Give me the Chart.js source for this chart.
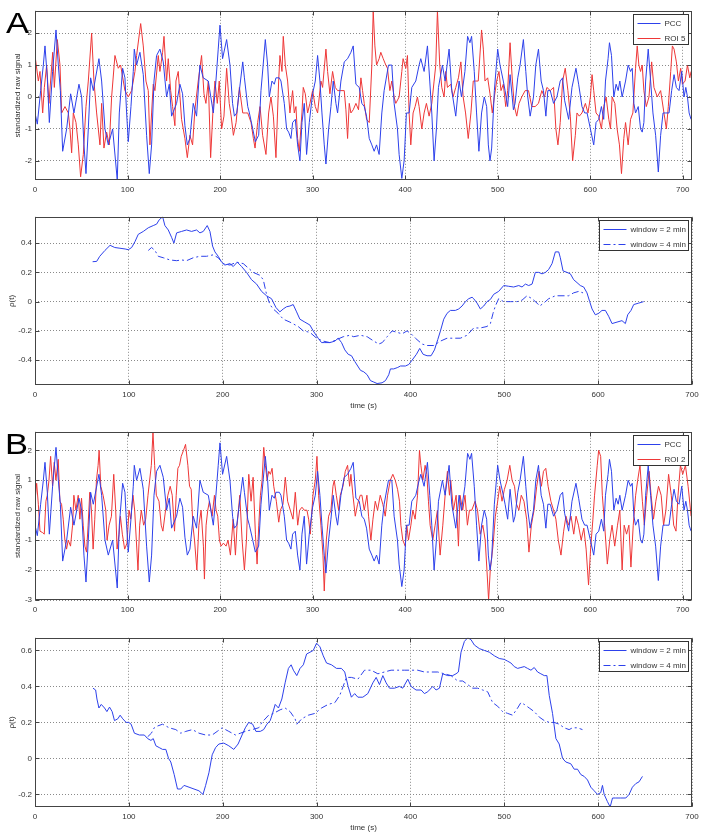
<!DOCTYPE html>
<html>
<head>
<meta charset="utf-8">
<script src="https://cdn.jsdelivr.net/npm/chart.js@4.4.1/dist/chart.umd.min.js"></script>
<style>
html,body{margin:0;padding:0;background:#fff;}
body{width:704px;height:838px;position:relative;overflow:hidden;font-family:"Liberation Sans",Arial,sans-serif;}
canvas{position:absolute;left:0;}
.lab{position:absolute;font-size:30px;line-height:30px;color:#000;transform:scaleX(1.15);transform-origin:left top;}
</style>
</head>
<body>
<canvas id="a1" width="704" height="197" style="top:3px"></canvas>
<canvas id="a2" width="704" height="207" style="top:209px"></canvas>
<canvas id="b1" width="704" height="196" style="top:424px"></canvas>
<canvas id="b2" width="704" height="208" style="top:630px"></canvas>
<div class="lab" style="left:6px;top:8px">A</div>
<div class="lab" style="left:5px;top:429px">B</div>
<script>
// ---------------- DATA (time in s, value) ----------------
const sigTicksX = [0,100,200,300,400,500,600,700];
const rhoTicksX = [0,100,200,300,400,500,600,700];
const sigTicksY = [-2,-1,0,1,2];
const sigTicksYB = [-3,-2,-1,0,1,2];
const rhoTicksYA = [-0.4,-0.2,0,0.2,0.4];
const rhoTicksYB = [-0.2,0,0.2,0.4,0.6];

const pcc = [[0,-0.5],[2.5,-0.85],[6.1,0.2],[9,1.0],[10.8,1.6],[13.3,0.6],[15.5,-0.8],[19,0.8],[22.7,2.1],[25.2,1.0],[27.4,0.2],[29.9,-1.7],[34.2,-1.0],[38.5,0.1],[42.1,-0.5],[47.5,0.4],[50.4,0],[52.9,-1.5],[55.1,-2.4],[57.6,-1.0],[60.1,0.6],[63,0.2],[69.1,1.2],[72,0.5],[75.6,-1.0],[79.2,-1.5],[83.9,-1.0],[88.9,-2.6],[91.1,-0.5],[94.7,0.9],[97.2,0.6],[99,-0.5],[100.8,-1.4],[103.7,-0.3],[106.2,0.8],[107.3,1.5],[109.8,1.0],[113.4,1.4],[117,0.7],[120.6,-1.2],[123.5,-2.4],[126,-1.5],[128.6,0.5],[131.4,1.3],[135,1.5],[138.6,1.1],[142.2,0],[145.1,0.4],[147.6,-0.6],[153,-0.2],[156.6,0.4],[159.5,0.1],[162,-0.9],[164.6,-1.5],[167.4,-1.3],[171,-0.2],[174.6,-0.6],[178.2,1.0],[181.8,0.6],[187.3,0.5],[192.7,-0.5],[195.5,0.5],[198,1.5],[199.9,2.25],[202.7,1.2],[207.1,1.8],[210.7,1.0],[213.5,-0.2],[215.5,-0.6],[218,-0.5],[224.5,1.1],[226.3,0.6],[229.9,-0.3],[231.7,-0.5],[235.3,-1.0],[238.1,-1.4],[241.7,-1.2],[244.2,0.2],[248.9,1.8],[251.4,1.0],[253.2,0],[256.1,0.5],[258.6,0.4],[260.4,0.6],[264,0.6],[265.8,0.5],[269.4,-0.2],[271.9,-1.0],[274.1,-1.1],[276.6,-1.3],[278.4,-0.8],[281.3,-0.7],[283.8,-1.5],[286.3,-2.0],[288.5,-0.8],[291,-0.2],[293.5,-1.8],[296.4,-0.8],[300,0.1],[302.9,0.5],[305.4,1.3],[307.9,0.5],[310.1,-0.5],[312.6,-1.5],[314.4,-2.1],[317.3,-1.0],[319.8,-0.3],[322.3,0.5],[325.2,-0.2],[327,-0.5],[330.6,0.5],[334.2,1.1],[337.8,1.2],[341.4,1.4],[343.9,1.6],[346.8,0.4],[350.4,0.3],[353.2,-0.2],[355.8,-0.3],[358.3,-0.6],[361.2,-1.3],[364,-1.5],[366.5,-1.7],[369.1,-1.5],[371.9,-1.8],[374.8,-0.5],[377.3,0.2],[382,1.0],[385.6,1.0],[388.1,-0.2],[391.7,-1.0],[393.5,-1.8],[396.4,-2.55],[398.9,-2.0],[401.4,-0.5],[404.3,-0.5],[407.2,0.3],[411.5,0.5],[415.1,1.0],[416.9,1.2],[420.5,0.8],[424.1,1.6],[426.6,0.5],[428.8,-0.5],[431.3,-2.0],[433.8,-1.0],[436,0.3],[440.3,1.0],[443.2,0.5],[447.5,1.5],[450.4,0.2],[454.7,-0.6],[458.3,0.5],[460.9,0.0],[464.6,0.8],[467.5,1.9],[470,1.7],[471.8,1.9],[474.7,0.8],[477.2,-0.5],[479.7,-1.7],[482.6,-0.5],[485.5,0],[488.1,-0.3],[489.9,-1.5],[491.7,-2.0],[493.5,-1.6],[496.4,0.2],[500,1.5],[502.5,1.0],[506.1,0.5],[508,0.2],[510.8,-0.3],[513.4,0.7],[517,-0.4],[518.8,-0.2],[521.7,0.6],[524.2,1.0],[527.8,1.8],[530.4,0.8],[532.5,0],[535.1,-0.6],[538.7,0],[541.2,1.0],[544.1,1.5],[547,0.5],[549.5,0.2],[552.1,-0.6],[554.2,0.2],[556.8,0.2],[560.4,-0.2],[564,0],[567.6,0.5],[570.2,0.6],[572.3,-0.1],[576.7,-0.7],[580.3,0.3],[584.6,0.9],[587.5,0.4],[591.1,-0.3],[594,-0.5],[596.6,-0.5],[600.2,-1.0],[603.8,-1.5],[606.3,-0.8],[609.2,-0.7],[612.1,-0.3],[614.6,-0.7],[616.5,0.5],[619.3,1.2],[620.8,1.7],[623,1.3],[625.5,0.0],[628,0.4],[630.2,0.2],[632,0.5],[634.5,0.0],[638.2,0.5],[641,1.0],[643.6,0.8],[645.4,0.9],[647.2,-0.2],[649,-0.5],[651.9,-0.3],[654.4,-1.0],[656.2,-1.1],[658,-0.8],[659.9,0.5],[662.7,1.5],[665.3,0.5],[667.8,-0.5],[670.7,-1.2],[673.6,-2.35],[676.1,-1.2],[678.7,-0.5],[681.6,-0.5],[685.2,-0.5],[688,0.2],[690.6,0.7],[693.1,0.3],[696,0.2],[698.9,0.8],[701.4,0.0],[703.3,0.3],[705.1,0.0],[706.9,-0.5],[709,-0.7]];

const roi5 = [[0,1.3],[3.6,0.5],[5.4,0.8],[8.3,-0.5],[10.1,0.3],[12.6,1.0],[15.1,-0.2],[19.1,1.4],[20.9,0.3],[24.1,1.8],[27,1.0],[28.8,-0.5],[32.4,-0.3],[36,-0.5],[37.8,-1.0],[39.6,-1.75],[41.4,-0.5],[44.3,-0.8],[46.8,-1.5],[49.3,-2.5],[52.2,-1.8],[55.1,-0.3],[57.6,0.5],[61.2,2.0],[63.7,0.5],[66.6,-0.5],[70.2,-1.5],[72,-0.2],[74.5,-1.6],[77.4,-1.1],[80.3,-1.5],[82.8,0],[86.4,1.3],[90,0.9],[92.5,1.0],[97.2,0.2],[100.8,0.0],[104.4,0.2],[108,0.8],[109.8,1.3],[114.2,2.3],[117,1.6],[119.9,0.5],[122.4,0.2],[124.2,-1.5],[126,-0.5],[127.8,0.4],[129.6,0.2],[133.2,1.3],[135,0.8],[137.9,1.4],[139.4,1.9],[142.2,0.5],[144,1.2],[146.6,0.2],[148.7,-0.3],[151.2,-0.9],[152.3,0.5],[154.8,0.8],[158.4,-0.7],[162,-1.3],[164.6,-1.9],[167.4,-1.2],[170.3,-1.5],[172.8,-0.4],[176.4,0.5],[180,1.3],[182.6,0.1],[184.7,-0.2],[187.3,0.5],[189.8,-1.9],[192.7,-0.2],[194.5,0.5],[197,-0.2],[199.1,0.5],[201.7,-1.0],[204.2,-0.6],[207.1,0.9],[209.9,-0.2],[212,-0.6],[214.4,-1.2],[217.3,-0.8],[220.9,0.3],[224.5,-0.5],[227.3,-0.5],[229.9,-0.5],[233.5,-0.8],[236,-1.3],[237.8,-1.6],[240.6,-0.8],[243.2,-0.3],[246,-1.2],[249.6,-1.8],[252.5,-0.5],[255,0.0],[257.6,-0.6],[260.4,-1.9],[263.3,0.5],[264.7,1.3],[266.9,0.8],[268.3,1.9],[270.5,1.0],[273,0.5],[275.5,-0.5],[278.4,0.2],[280.2,-0.5],[282,-0.3],[283.8,-1.3],[285.6,-1.7],[288.5,-0.5],[289.9,0.3],[292.1,0.1],[294.6,-0.5],[297.1,-0.2],[300,0.2],[302.9,-0.3],[305.4,-0.5],[309,0.5],[310.8,0.3],[314.4,1.5],[316.2,0.8],[318.7,0.1],[321.6,0.8],[324.5,0.3],[327,0.2],[330.6,0.2],[334.2,0.2],[336,-0.4],[337.8,-1.3],[339.6,-0.2],[341.4,-0.5],[343.9,-0.4],[346.8,-0.2],[349.6,-0.4],[352.2,0.6],[354,0.2],[355.8,-0.2],[358.3,-0.7],[361.2,-0.8],[364,1.0],[365.5,2.7],[367.3,1.6],[369.1,1.0],[371.9,1.2],[373.7,1.4],[376.3,1.2],[379.1,1.0],[380.9,0.9],[383.5,0.2],[385.6,0.5],[388.1,0],[389.9,-0.2],[393.5,0.0],[396.4,0.8],[397.8,1.2],[400.7,0.9],[402.5,1.3],[404.3,-0.5],[406.1,-1.5],[408.6,-0.5],[410.8,-0.3],[413.3,0.0],[415.1,-0.3],[418,-1.0],[420.5,-0.5],[423,-0.2],[425.9,-0.6],[428.8,-0.2],[431.3,0.5],[433.1,1.0],[434.9,2.7],[437.4,1.0],[439.6,0.3],[442.1,0.0],[443.9,0.8],[445.7,0.3],[449.3,0.4],[451.8,0.0],[454.7,0.3],[457.6,0.6],[460.2,1.1],[462.7,0.0],[465.3,-0.5],[468.2,-1.3],[471.1,-0.5],[473.6,0.5],[476.1,0.5],[479,0.5],[482.6,2.1],[484.5,1.5],[486.3,0.5],[489.2,0.6],[491.7,0.1],[494.2,-0.5],[496.4,0.0],[498.9,0.5],[501.4,0.8],[503.6,0.2],[506.1,0.4],[508.7,-0.3],[510.8,0.2],[513.4,1.7],[515.9,0.5],[518.1,-0.3],[520.6,-0.6],[523.1,-0.2],[526,0.0],[529.7,0.2],[533.3,0.2],[536.9,-0.3],[540.5,-0.3],[544.1,-0.2],[547.7,0.2],[550.6,0.0],[553.2,0.3],[556.8,0.2],[560.4,0.3],[562.9,-1.0],[565.1,-1.5],[567.6,-0.8],[570.2,0.5],[573,0.9],[575.9,0.2],[578.5,-0.6],[581,-2.0],[583.9,-1.2],[585.7,-0.5],[588.2,-0.6],[591.1,-0.5],[594.8,-0.2],[597.6,-0.5],[600.2,0.0],[602,0.7],[603.8,0.2],[606.3,-0.5],[609.2,-0.6],[612.1,-1.0],[614.6,-0.3],[617.2,0.0],[620.1,-0.7],[621.9,-1.0],[623.7,0.0],[626.6,-0.2],[629.1,-1.0],[631.6,-1.5],[633.8,-2.4],[636.3,-1.3],[638.2,-0.8],[641,-1.5],[643.6,-0.7],[646.1,-0.5],[649,0.9],[650.8,1.6],[652.6,1.0],[654.4,0.8],[656.2,1.0],[658,0.2],[660.6,-0.3],[663.5,0.0],[666.4,1.1],[668.9,0.3],[672.5,0.0],[676.1,0.2],[679.7,-0.5],[682.3,-1.0],[684.4,-0.3],[687,0.8],[688.8,1.6],[690.6,1.5],[693.1,1.1],[695.3,0.5],[697.8,0.9],[699.6,0.4],[702.5,0.5],[705.1,1.0],[707.6,0.6],[709,0.8]];

const roi2 = [[0,0.3],[1.8,0.9],[3.6,0.2],[5.4,-0.7],[8.3,-0.75],[10,-0.8],[11.8,0.3],[13.3,0.5],[15.1,1.0],[16.9,1.8],[19,0.8],[20.8,1.6],[22.6,1.0],[25.1,1.7],[26.9,0.3],[28.7,0.2],[30.5,-0.3],[32.3,-1.0],[34.1,-1.3],[35.9,-1.0],[38.4,-1.2],[40.6,-0.5],[42,0.5],[44.2,0.0],[46.7,0.5],[48.5,-0.3],[50.3,0.4],[52.1,-0.5],[53.9,-1.2],[55.7,-1.4],[57.4,-0.5],[59.2,0.6],[61,0.0],[62.8,-1.3],[64.6,-0.3],[66.4,1.0],[68.2,1.5],[69.3,2.0],[71.1,0.8],[73.6,0.5],[76.5,0.0],[77.9,-1.0],[80.1,-0.5],[82.6,-0.2],[85.1,1.2],[87.2,0.0],[88.7,-1.3],[90.8,-0.8],[92.3,-0.2],[94.4,-0.8],[96.9,-1.3],[99.4,-1.1],[101.6,0.0],[103.4,-0.3],[105.9,0.5],[107.7,0.0],[109.5,-1.0],[111.3,-2.0],[113.1,-0.5],[114.9,0.0],[117.4,-0.5],[119.6,-0.3],[122.1,0.5],[123.9,1.0],[125.7,1.5],[127.5,2.6],[129.3,1.5],[131.1,0.5],[134,0.3],[136.4,-0.5],[138.2,-0.7],[141.1,0.0],[143.6,0.5],[146.1,0.8],[148.3,0.5],[150.8,-0.7],[152.6,0.5],[154.4,1.4],[156.2,1.5],[158,1.8],[160.5,2.0],[162.7,2.2],[165.2,1.5],[167,0.8],[168.8,0.7],[170.6,-0.5],[172.4,-1.0],[174.9,-2.0],[177.1,-0.5],[179.5,0.0],[182,-1.2],[183.1,-2.3],[184.9,-0.5],[186.7,0.0],[188.5,0.3],[191.4,-0.2],[193.9,0.5],[195.7,0.0],[197.5,-0.2],[199.3,-1.0],[201.1,-1.2],[203.6,-1.1],[206.5,-1.2],[208.6,-1.0],[211.2,-1.5],[214.1,-0.3],[216.6,-1.5],[218.4,-0.5],[221.3,0.5],[223.8,-1.0],[226.3,-2.0],[228.5,-1.0],[231,1.2],[233.5,0.3],[235.7,1.1],[238.2,-0.8],[240,-1.8],[241.8,-0.5],[243.6,0.5],[245.4,1.0],[247.2,2.1],[249,1.5],[250.8,1.0],[252.6,1.3],[254.4,1.2],[256.2,1.4],[258,0.8],[260.8,0.3],[263.4,-0.4],[265.2,0.0],[268,0.2],[270.5,1.1],[273,0.3],[275.9,0.0],[278.8,-0.3],[281.3,0.6],[283.9,-0.5],[286,0.0],[288.5,0.1],[291,0.0],[293.9,0.0],[295.7,-0.3],[297.5,-0.8],[300.4,0.5],[302.9,1.0],[304.7,1.8],[306.5,0.5],[309,-0.5],[311.2,-1.5],[312.6,-2.7],[314.8,-1.0],[317.3,-0.2],[319.8,0.0],[322,0.8],[323.4,1.0],[325.6,0.5],[328.1,0.0],[329.9,0.5],[332.8,0.8],[335.3,1.3],[337.8,1.5],[340,0.8],[341.4,1.2],[343.6,0.5],[346.1,-0.2],[348.6,0.2],[351.5,0.5],[353.3,0.5],[355.8,0.0],[358.7,0.5],[360.5,-0.2],[363,-1.0],[365.2,-0.3],[367.7,0.3],[370.2,0.0],[373.1,0.5],[375.9,0.2],[378.5,-0.2],[381,0.5],[383.9,1.0],[386.7,1.2],[389.3,1.0],[391.8,0.7],[393.9,0.3],[395.4,-0.5],[397.5,-1.0],[400.1,-1.2],[401.8,-0.5],[403.6,-1.0],[406.2,-0.5],[408.3,0.0],[410.8,-0.3],[413.4,0.5],[415.5,2.0],[417,1.5],[419.1,1.0],[421.6,1.5],[423.4,1.2],[425.2,0.3],[427,-0.5],[429.9,-1.0],[432.4,-0.5],[434.9,0.0],[437.8,-1.5],[440.7,-0.5],[443.2,0.5],[445.7,1.3],[447.9,0.5],[449.3,1.0],[452.2,0.0],[455.1,0.5],[457.6,-1.2],[459.3,0.5],[462.2,0.0],[464.7,0.5],[467.3,-0.5],[469.5,0.0],[472,0.0],[475.6,0.3],[478.2,0.0],[481.1,-0.8],[484,-0.5],[486.5,-1.0],[488.4,-2.0],[490.2,-3.0],[492,-2.0],[494.9,-1.2],[497.5,-0.2],[500,0.3],[502.2,0.8],[504.7,0.3],[507.3,0.7],[510.2,1.0],[513.1,1.5],[515.6,1.0],[518.2,0.8],[520.4,0.2],[522.9,0.0],[525.5,0.5],[528.4,0.3],[531.3,-0.3],[533.8,-1.4],[536.4,-0.5],[539.3,0.0],[542.2,0.8],[544.7,1.3],[547.3,0.8],[549.5,1.3],[552,1.4],[554.5,0.8],[557.5,0.3],[560.4,0.0],[562.9,-0.3],[565.5,-1.0],[568.4,-1.5],[571.3,-0.7],[573.8,-0.2],[576.4,-0.5],[579.3,-0.2],[582.2,-0.8],[584.7,-0.2],[587.3,-0.5],[590.2,-1.0],[593.1,-0.6],[595.6,-1.3],[598.2,-2.5],[600.4,-1.3],[602.9,-0.3],[604.7,0.5],[607.6,1.5],[609.1,2.0],[611.3,1.8],[613.1,0.5],[615.6,-0.5],[618.5,-1.8],[621.1,-1.0],[623.6,-0.5],[626.5,-1.2],[629.5,-0.5],[632,0.0],[634.5,-2.0],[636.7,-0.5],[639.3,-0.8],[641.8,-0.5],[644,-1.9],[646.5,-0.5],[649.1,0.5],[651.3,1.0],[653.8,1.5],[656.4,0.3],[658.5,-0.5],[661.1,0.5],[663.6,1.3],[665.8,0.5],[668.4,-0.3],[670.9,0.3],[673.8,0.8],[676.7,0.5],[679.3,-0.5],[681.8,0.0],[684.7,1.2],[687.6,0.5],[690.2,-0.5],[692.7,-0.7],[694.9,0.5],[697.5,1.5],[700,1.2],[702.9,1.5],[705.8,0.8],[708.4,0.0],[709,-0.2]];

const rhoA2 = [[61.4,0.273],[65.7,0.275],[69,0.31],[74.5,0.35],[80,0.385],[85,0.37],[90.5,0.365],[96,0.36],[99.4,0.355],[103,0.37],[106.5,0.41],[110,0.46],[115.4,0.48],[120.7,0.505],[126,0.52],[129.6,0.53],[132.4,0.56],[136,0.58],[138.4,0.52],[142,0.49],[145.5,0.44],[148,0.40],[150.9,0.47],[156.2,0.48],[161.5,0.49],[166.8,0.48],[172.2,0.49],[175.7,0.47],[179.3,0.48],[183.5,0.52],[186.4,0.48],[189.2,0.38],[191.7,0.34],[195.2,0.31],[198.8,0.27],[202.3,0.25],[207.7,0.26],[211.2,0.24],[215.5,0.27],[220.1,0.24],[225.4,0.2],[230.7,0.15],[236.1,0.12],[241.4,0.07],[246.7,0.04],[252,0.02],[256.7,-0.04],[260.9,-0.07],[264.5,-0.05],[268,-0.035],[271.6,-0.03],[275.1,-0.02],[278.7,-0.07],[282.2,-0.12],[287.5,-0.14],[292.9,-0.16],[296.4,-0.2],[301.7,-0.25],[305.3,-0.28],[308.8,-0.28],[314.2,-0.28],[319.5,-0.27],[323,-0.25],[326.6,-0.28],[330.1,-0.33],[333.7,-0.36],[337.2,-0.37],[340.8,-0.41],[346.8,-0.47],[350.3,-0.48],[353.9,-0.5],[357.4,-0.54],[361,-0.55],[364.5,-0.56],[369.8,-0.555],[373.4,-0.54],[376.9,-0.5],[378.7,-0.46],[382.2,-0.46],[386.5,-0.45],[389.4,-0.44],[394.7,-0.44],[398.2,-0.43],[401.8,-0.4],[406.4,-0.36],[409.9,-0.32],[413.5,-0.36],[417.7,-0.37],[422,-0.37],[425.6,-0.33],[429.1,-0.26],[432,-0.2],[435.5,-0.12],[439,-0.08],[442.6,-0.06],[447.9,-0.06],[451.5,-0.05],[455,-0.03],[458.6,0],[462.1,0.02],[465.7,0.03],[467.4,0.02],[471,-0.01],[474.5,-0.05],[478.1,-0.03],[481.6,0],[485.2,0.015],[488.7,0.05],[494,0.07],[499.4,0.11],[504.7,0.105],[510,0.1],[515.4,0.11],[518.9,0.1],[522.5,0.12],[526,0.11],[529.6,0.12],[533.1,0.2],[536.7,0.2],[540.2,0.19],[543.8,0.2],[547.3,0.22],[550.9,0.26],[554.4,0.34],[558,0.34],[559.7,0.3],[562.6,0.21],[566.8,0.2],[570.4,0.19],[573.9,0.15],[577.5,0.13],[581,0.11],[584.6,0.1],[588.1,0.06],[591,0.0],[593.5,-0.05],[597,-0.09],[600.6,-0.08],[604.1,-0.06],[607.7,-0.06],[611.2,-0.1],[614.8,-0.15],[620.1,-0.14],[625.4,-0.13],[629,-0.15],[631.5,-0.09],[635,-0.06],[637.9,-0.02],[643.2,-0.01],[648.5,0.0]];

const rhoA4 = [[120.7,0.35],[124.2,0.37],[127.8,0.35],[131.3,0.31],[136.7,0.3],[143.8,0.285],[150.9,0.28],[156.2,0.285],[161.5,0.28],[168.6,0.3],[175.7,0.31],[182.8,0.31],[189.9,0.32],[195.2,0.3],[200.6,0.26],[207.7,0.25],[214.8,0.27],[221.9,0.26],[232.5,0.2],[239.6,0.18],[243.2,0.15],[246.7,0.05],[250.3,-0.02],[253.8,-0.05],[259.1,-0.08],[264.5,-0.12],[271.6,-0.14],[280.4,-0.17],[285.8,-0.2],[292.9,-0.21],[300,-0.25],[307.1,-0.27],[314.2,-0.28],[321.3,-0.26],[328.4,-0.24],[335.5,-0.23],[339.6,-0.24],[346.8,-0.23],[353.9,-0.24],[361,-0.27],[366.3,-0.29],[370,-0.28],[375.2,-0.24],[380.5,-0.2],[385.8,-0.21],[391.1,-0.22],[396.4,-0.2],[400.7,-0.22],[405.3,-0.25],[412.4,-0.29],[417.7,-0.3],[424.8,-0.3],[432,-0.27],[439,-0.25],[446.1,-0.25],[453.2,-0.25],[460.3,-0.23],[467.4,-0.18],[474.5,-0.18],[481.6,-0.17],[485.2,-0.15],[488,-0.08],[490.5,-0.03],[494,0.02],[499.4,0.0],[506.5,0.0],[513.6,0.0],[518.9,0.01],[524.2,0.04],[529.6,0.02],[534.9,-0.01],[537.7,-0.03],[542,-0.01],[547.3,0.02],[554.4,0.04],[561.5,0.04],[568.6,0.04],[573.9,0.06],[579.3,0.07],[583.9,0.06]];

const rhoB2 = [[61.8,0.39],[64.6,0.38],[66,0.33],[68.1,0.28],[70.6,0.3],[74.1,0.28],[76.6,0.26],[79.4,0.285],[82.2,0.26],[84.7,0.21],[88.2,0.22],[90.7,0.24],[93.5,0.22],[97.1,0.2],[99.9,0.2],[102.4,0.19],[105.9,0.14],[111.2,0.13],[116.5,0.13],[120,0.11],[123.5,0.1],[126,0.11],[128.8,0.07],[132.4,0.06],[135.9,0.05],[139.4,0.05],[142.3,0.0],[144.7,-0.02],[148.3,-0.09],[151.8,-0.17],[155.3,-0.17],[158.8,-0.15],[164.1,-0.16],[169.4,-0.17],[174.7,-0.18],[179,-0.2],[181.8,-0.15],[185.3,-0.08],[188.8,0.02],[192.4,0.06],[195.9,0.08],[201.2,0.085],[206.5,0.07],[211.8,0.05],[216.4,0.08],[220.6,0.13],[224.1,0.17],[227.7,0.2],[231.9,0.19],[235.4,0.15],[240,0.15],[243.6,0.16],[247.1,0.19],[250.6,0.21],[253.1,0.25],[255.9,0.3],[259.4,0.28],[263,0.33],[266.5,0.42],[270,0.5],[272.9,0.52],[275.3,0.49],[278.9,0.46],[282.4,0.5],[285.9,0.52],[289.4,0.58],[293,0.59],[296.5,0.6],[300,0.64],[303.6,0.62],[307.1,0.57],[310.6,0.53],[315.9,0.52],[321.2,0.5],[326.5,0.5],[330,0.48],[333.6,0.4],[337.1,0.34],[340.6,0.36],[344,0.34],[349.3,0.34],[354.6,0.36],[360,0.42],[363.5,0.45],[367,0.41],[370.6,0.46],[374.1,0.42],[377.7,0.39],[383,0.39],[388.3,0.40],[391.8,0.39],[397.2,0.44],[400.7,0.4],[406,0.38],[411.4,0.38],[414.9,0.36],[418.4,0.37],[423.8,0.4],[427.3,0.38],[430.9,0.39],[434.4,0.47],[439.7,0.46],[445,0.46],[448.6,0.47],[451.1,0.48],[453.9,0.59],[457.5,0.65],[461,0.67],[464.5,0.66],[468.1,0.63],[473.4,0.61],[478.7,0.6],[484.1,0.59],[489.4,0.57],[494.7,0.555],[500,0.55],[503.6,0.54],[507.1,0.53],[510.6,0.51],[514.2,0.50],[517.7,0.505],[521.3,0.51],[524.8,0.5],[528.4,0.49],[531.9,0.505],[535.5,0.48],[539,0.47],[542.6,0.46],[545.4,0.46],[547.9,0.35],[551.4,0.25],[555,0.11],[558.5,0.08],[562.1,0.0],[565.6,-0.02],[570.9,-0.03],[574.5,-0.06],[578,-0.06],[581.6,-0.09],[585.1,-0.1],[588.7,-0.12],[592.2,-0.16],[595.8,-0.18],[599.3,-0.2],[602.8,-0.19],[604.6,-0.15],[606.4,-0.2],[609.9,-0.24],[612.8,-0.27],[615.3,-0.22],[618.8,-0.22],[624.1,-0.22],[629.5,-0.22],[633,-0.2],[636.5,-0.16],[640.1,-0.14],[643.6,-0.13],[647.2,-0.1]];

const rhoB4 = [[120,0.12],[124,0.14],[127,0.17],[130.6,0.18],[135.9,0.19],[143,0.17],[150,0.16],[155.3,0.14],[160.6,0.15],[167.7,0.16],[174.7,0.14],[181.8,0.13],[188.8,0.13],[194.1,0.15],[199.4,0.17],[206.5,0.15],[213.6,0.13],[218.8,0.14],[224.1,0.15],[231.2,0.16],[238.3,0.17],[241.8,0.2],[248.9,0.24],[254.1,0.25],[261.2,0.27],[266.5,0.28],[271.8,0.26],[277.1,0.22],[278.9,0.19],[284.2,0.22],[291.2,0.24],[298.3,0.25],[305.3,0.28],[312.4,0.3],[319.5,0.31],[324.7,0.35],[328.3,0.4],[331.8,0.45],[337.1,0.45],[344,0.44],[351.1,0.49],[358.2,0.49],[365.3,0.47],[372.3,0.48],[379.4,0.49],[386.5,0.49],[393.6,0.49],[400.7,0.49],[407.8,0.49],[414.9,0.48],[422,0.48],[429.1,0.48],[436.2,0.47],[443.3,0.46],[450.4,0.43],[455.7,0.43],[461,0.41],[466.3,0.39],[471.6,0.39],[477,0.38],[482.3,0.37],[487.6,0.31],[492.9,0.29],[498.2,0.26],[503.6,0.25],[508.9,0.24],[514.2,0.28],[517.7,0.31],[521.3,0.3],[526.6,0.28],[531.9,0.26],[537.2,0.23],[542.6,0.21],[547.9,0.2],[553.2,0.2],[558.5,0.19],[563.8,0.17],[569.1,0.16],[572.7,0.17],[578,0.17],[583.3,0.16]];

// ---------------- STYLE / DRAW ----------------
const FONT = '"Liberation Sans", Arial, sans-serif';
const BLUE = 'rgb(45,65,235)';
const RED = 'rgb(238,55,55)';
const TXT = '#333';
const DASHDOT = [7,3,2,3];

const framePlugin = {
  id: 'frame',
  afterDatasetsDraw(chart, args, opts) {
    const {ctx, chartArea: a, scales: {x, y}} = chart;
    ctx.save();
    ctx.strokeStyle = '#444';
    ctx.lineWidth = 1;
    const L = Math.round(a.left) + 0.5, R = Math.round(a.right) - 0.5;
    const T = Math.round(a.top) + 0.5, B = Math.round(a.bottom) - 0.5;
    ctx.strokeRect(L, T, R - L, B - T);
    const tl = 4;
    ctx.beginPath();
    x.ticks.forEach(t => {
      const px = Math.round(x.getPixelForValue(t.value)) + 0.5;
      ctx.moveTo(px, B); ctx.lineTo(px, B - tl);
      ctx.moveTo(px, T); ctx.lineTo(px, T + tl);
    });
    y.ticks.forEach(t => {
      const py = Math.round(y.getPixelForValue(t.value)) + 0.5;
      ctx.moveTo(L, py); ctx.lineTo(L + tl, py);
      ctx.moveTo(R, py); ctx.lineTo(R - tl, py);
    });
    ctx.stroke();
    // legend box
    const lg = opts.legend;
    if (lg) {
      ctx.font = '8px ' + FONT;
      const tw = Math.max(...lg.items.map(it => ctx.measureText(it.text).width));
      const bw = Math.round(tw + 34 + lg.extra), bh = 30;
      const bx = Math.round(a.right) - 4 - bw + 0.5, by = Math.round(a.top) + 3 + 0.5;
      ctx.fillStyle = '#fff';
      ctx.fillRect(bx, by, bw, bh);
      ctx.strokeStyle = '#333';
      ctx.strokeRect(bx, by, bw, bh);
      lg.items.forEach((it, i) => {
        const yy = Math.round(by + 8.5 + i * 14.5) + 0.5;
        ctx.save();
        ctx.strokeStyle = it.color;
        ctx.lineWidth = 1;
        ctx.setLineDash(it.dash || []);
        ctx.beginPath();
        ctx.moveTo(bx + 4, yy); ctx.lineTo(bx + 27, yy);
        ctx.stroke();
        ctx.restore();
        ctx.fillStyle = TXT;
        ctx.textBaseline = 'middle';
        ctx.textAlign = 'left';
        ctx.fillText(it.text, bx + 31 + lg.extra, yy);
      });
    }
    ctx.restore();
  }
};

function makeChart(id, cfg) {
  const tickCfg = (arr) => s => { s.ticks = arr.map(v => ({value: v})); };
  new Chart(document.getElementById(id), {
    type: 'line',
    data: {
      datasets: cfg.series.map(s => ({
        label: s.label,
        data: s.data.map(p => ({x: p[0], y: p[1]})),
        borderColor: s.color,
        borderWidth: 1,
        borderDash: s.dash || [],
        pointRadius: 0,
        tension: 0,
        fill: false
      }))
    },
    options: {
      responsive: false,
      animation: false,
      events: [],
      layout: {padding: {left: 0, right: 12, top: 4, bottom: 0}},
      plugins: {
        legend: {display: false},
        tooltip: {enabled: false},
        frame: {legend: cfg.legend}
      },
      scales: {
        x: {
          type: 'linear', min: cfg.xMin, max: cfg.xMax,
          afterBuildTicks: tickCfg(cfg.xTicks),
          afterFit: s => { s.height = cfg.xH; },
          grid: {color: '#8a8a8a', drawTicks: false, lineWidth: 1},
          border: {display: false, dash: [1, 2]},
          ticks: {font: {size: 8, family: FONT}, color: TXT, padding: 5, maxRotation: 0, autoSkip: false, callback: v => String(v)},
          title: cfg.xTitle ? {display: true, text: cfg.xTitle, font: {size: 8, family: FONT}, color: TXT, padding: {top: 0, bottom: 5}} : {display: false}
        },
        y: {
          type: 'linear', min: cfg.yMin, max: cfg.yMax,
          afterBuildTicks: tickCfg(cfg.yTicks),
          afterFit: s => { s.width = 35; },
          grid: {color: '#8a8a8a', drawTicks: false, lineWidth: 1},
          border: {display: false, dash: [1, 2]},
          ticks: {font: {size: 8, family: FONT}, color: TXT, padding: 3, autoSkip: false, callback: v => String(v)},
          title: {display: true, text: cfg.yTitle, font: {size: 8, family: FONT}, color: TXT, padding: {top: cfg.yTitlePad, bottom: 0}}
        }
      }
    },
    plugins: [framePlugin]
  });
}

makeChart('a1', {
  xMin: 0, xMax: 710, xTicks: sigTicksX, xH: 20,
  yMin: -2.6, yMax: 2.7, yTicks: sigTicksY, yTitle: 'standardized raw signal', yTitlePad: 13,
  series: [{label: 'PCC', data: pcc, color: BLUE}, {label: 'ROI 5', data: roi5, color: RED}],
  legend: {extra: 0, items: [{text: 'PCC', color: BLUE}, {text: 'ROI 5', color: RED}]}
});
makeChart('a2', {
  xMin: 0, xMax: 700, xTicks: rhoTicksX, xH: 31, xTitle: 'time (s)',
  yMin: -0.57, yMax: 0.58, yTicks: rhoTicksYA, yTitle: 'ρ(t)', yTitlePad: 7,
  series: [{label: 'window = 2 min', data: rhoA2, color: BLUE}, {label: 'window = 4 min', data: rhoA4, color: BLUE, dash: DASHDOT}],
  legend: {extra: 0, items: [{text: 'window = 2 min', color: BLUE}, {text: 'window = 4 min', color: BLUE, dash: DASHDOT}]}
});
makeChart('b1', {
  xMin: 0, xMax: 710, xTicks: sigTicksX, xH: 20,
  yMin: -3, yMax: 2.62, yTicks: sigTicksYB, yTitle: 'standardized raw signal', yTitlePad: 13,
  series: [{label: 'PCC', data: pcc, color: BLUE}, {label: 'ROI 2', data: roi2, color: RED}],
  legend: {extra: 0, items: [{text: 'PCC', color: BLUE}, {text: 'ROI 2', color: RED}]}
});
makeChart('b2', {
  xMin: 0, xMax: 700, xTicks: rhoTicksX, xH: 31, xTitle: 'time (s)',
  yMin: -0.27, yMax: 0.67, yTicks: rhoTicksYB, yTitle: 'ρ(t)', yTitlePad: 7,
  series: [{label: 'window = 2 min', data: rhoB2, color: BLUE}, {label: 'window = 4 min', data: rhoB4, color: BLUE, dash: DASHDOT}],
  legend: {extra: 0, items: [{text: 'window = 2 min', color: BLUE}, {text: 'window = 4 min', color: BLUE, dash: DASHDOT}]}
});
</script>
</body>
</html>
